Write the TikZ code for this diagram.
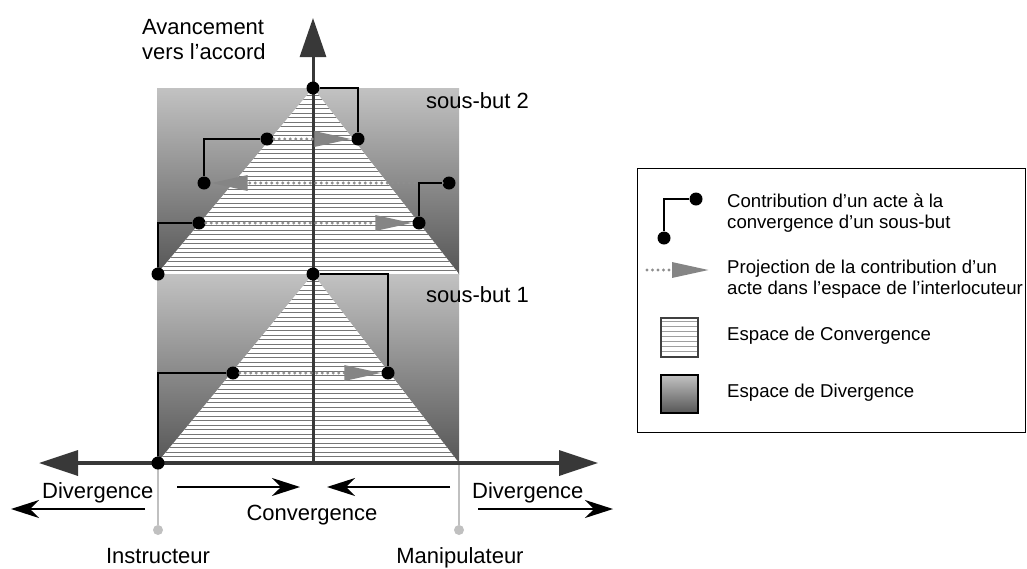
\documentclass[tikz,border=0pt]{standalone}
\usepackage{fontspec}
\setmainfont{Liberation Sans}
\usetikzlibrary{arrows.meta}
\definecolor{divtop}{HTML}{C2C2C2}
\definecolor{divbot}{HTML}{565656}
\definecolor{axisgray}{HTML}{383838}
\definecolor{stripegray}{HTML}{767676}
\definecolor{projgray}{HTML}{8E8E8E}
\definecolor{tipgray}{HTML}{858585}
\definecolor{guidegray}{HTML}{C0C0C0}
\tikzstyle{dotnode} = [circle,fill=black,inner sep=0pt,minimum size=13pt]
\tikzstyle{contrib} = [black,line width=2.2pt]
\tikzstyle{proj} = [projgray,line width=3.2pt,line cap=round,dash pattern=on 0pt off 5.5pt,-{Triangle[length=37pt,width=15pt,color=tipgray]}]
\tikzstyle{mainaxis} = [axisgray,line width=3.5pt]
\tikzstyle{stripe} = [stripegray,line width=0.8pt]
\tikzstyle{flow} = [black,line width=1.6pt,-{Stealth[length=28pt,width=18pt,inset=9pt]}]
\tikzstyle{guide} = [guidegray,line width=2.4pt]
\tikzstyle{guidedot} = [circle,fill=guidegray,inner sep=0pt,minimum size=10pt]
\tikzstyle{lbl} = [inner sep=0pt,font=\fontsize{22}{25}\selectfont]
\tikzstyle{leg} = [inner sep=0pt,font=\fontsize{18.6}{21}\selectfont,align=left]

\begin{document}
\begin{tikzpicture}[x=1pt,y=-1pt]
    \useasboundingbox (0,0) rectangle (1027,568);

    % espaces de divergence
    \shade[top color=divtop,bottom color=divbot] (157,88) rectangle (459,274);
    \shade[top color=divtop,bottom color=divbot] (157,274) rectangle (459,463);

    % espaces de convergence
    \begin{scope}
        \clip (313,88) -- (157,274) -- (459,274) -- cycle;
        \fill[white] (157,88) rectangle (459,274);
        \foreach \y in {90.5,95,...,274} \draw[stripe] (157,\y) -- (459,\y);
    \end{scope}
    \begin{scope}
        \clip (313,274) -- (157,463) -- (459,463) -- cycle;
        \fill[white] (157,274) rectangle (459,463);
        \foreach \y in {276.5,281,...,463} \draw[stripe] (157,\y) -- (459,\y);
    \end{scope}

    % interlocuteurs
    \node[guidedot](instr) at (158,530) {};
    \node[guidedot](manip) at (459,530) {};
    \coordinate (instrtop) at (158,463);
    \coordinate (maniptop) at (459,463);
    \draw[guide] (instrtop) -- (instr);
    \draw[guide] (maniptop) -- (manip);
    \node[lbl,anchor=base](instrlabel) at (158,563) {Instructeur};
    \node[lbl,anchor=base](maniplabel) at (460,563) {Manipulateur};

    % axes
    \coordinate (hleft) at (39,463);
    \coordinate (hright) at (598,463);
    \coordinate (vbase) at (313,463);
    \coordinate (vtip) at (313,18);
    \draw[mainaxis,{Triangle[length=39pt,width=25pt]}-{Triangle[length=39pt,width=25pt]}] (hleft) -- (hright);
    \draw[mainaxis,line width=3pt,-{Triangle[length=39pt,width=26pt]}] (vbase) -- (vtip);
    \node[lbl,anchor=north west,align=left](avance) at (142,19.5) {Avancement\\vers l’accord};

    % contributions
    \node[dotnode](s2top) at (313,88) {};
    \node[dotnode](s2a) at (267,139) {};
    \node[dotnode](s2b) at (358,139) {};
    \node[dotnode](s2c) at (204,183) {};
    \node[dotnode](s2d) at (449,183) {};
    \node[dotnode](s2e) at (199,223) {};
    \node[dotnode](s2f) at (419,223) {};
    \node[dotnode](s2g) at (158,274) {};
    \node[dotnode](s1top) at (313,274) {};
    \node[dotnode](s1a) at (233,373) {};
    \node[dotnode](s1b) at (388,373) {};
    \node[dotnode](s1c) at (158,463) {};

    \draw[proj] (s2a) -- (s2b);
    \draw[proj] (s2d) -- (s2c);
    \draw[proj] (s2e) -- (s2f);
    \draw[proj] (s1a) -- (s1b);

    \draw[contrib] (s2top) -| (s2b);
    \draw[contrib] (s2a) -| (s2c);
    \draw[contrib] (s2d) -| (s2f);
    \draw[contrib] (s2e) -| (s2g);
    \draw[contrib] (s1top) -| (s1b);
    \draw[contrib] (s1a) -| (s1c);

    \node[lbl,anchor=base west](sb2) at (426,108) {sous-but 2};
    \node[lbl,anchor=base west](sb1) at (426,302) {sous-but 1};

    % divergence / convergence
    \node[lbl,anchor=base west](divl) at (42,498) {Divergence};
    \node[lbl,anchor=base west](divr) at (472,498) {Divergence};
    \node[lbl,anchor=base](conv) at (312,520) {Convergence};
    \coordinate (dl1) at (145,509);
    \coordinate (dl2) at (11,509);
    \coordinate (dr1) at (478,509);
    \coordinate (dr2) at (613,509);
    \coordinate (cl1) at (177,487);
    \coordinate (cl2) at (300,487);
    \coordinate (cr1) at (450,487);
    \coordinate (cr2) at (327,487);
    \draw[flow] (dl1) -- (dl2);
    \draw[flow] (dr1) -- (dr2);
    \draw[flow] (cl1) -- (cl2);
    \draw[flow] (cr1) -- (cr2);

    % legende
    \draw[black,line width=1pt] (637,168) rectangle (1025,432);
    \node[dotnode](lc1) at (696,199) {};
    \node[dotnode](lc2) at (664,238) {};
    \draw[contrib] (lc1) -| (lc2);
    \node[leg,anchor=north west](legcontrib) at (727,193.5) {Contribution d’un acte à la\\convergence d’un sous-but};

    \coordinate (lpa) at (647,270);
    \coordinate (lpb) at (709,270);
    \draw[proj] (lpa) -- (lpb);
    \node[leg,anchor=north west](legproj) at (727,259.5) {Projection de la contribution d’un\\acte dans l’espace de l’interlocuteur};

    \begin{scope}
        \clip (661,318) rectangle (698,357);
        \fill[white] (661,318) rectangle (698,357);
        \foreach \y in {321,326,...,356} \draw[stripegray!70,line width=1pt] (661,\y) -- (698,\y);
    \end{scope}
    \draw[black!75,line width=1.5pt] (661,318) rectangle (698,357);
    \node[leg,anchor=base west](legconv) at (727,340) {Espace de Convergence};

    \shade[top color=divtop,bottom color=divbot] (661,375) rectangle (698,413);
    \draw[black,line width=1.5pt] (661,375) rectangle (698,413);
    \node[leg,anchor=base west](legdiv) at (727,397) {Espace de Divergence};

\end{tikzpicture}
\end{document}
